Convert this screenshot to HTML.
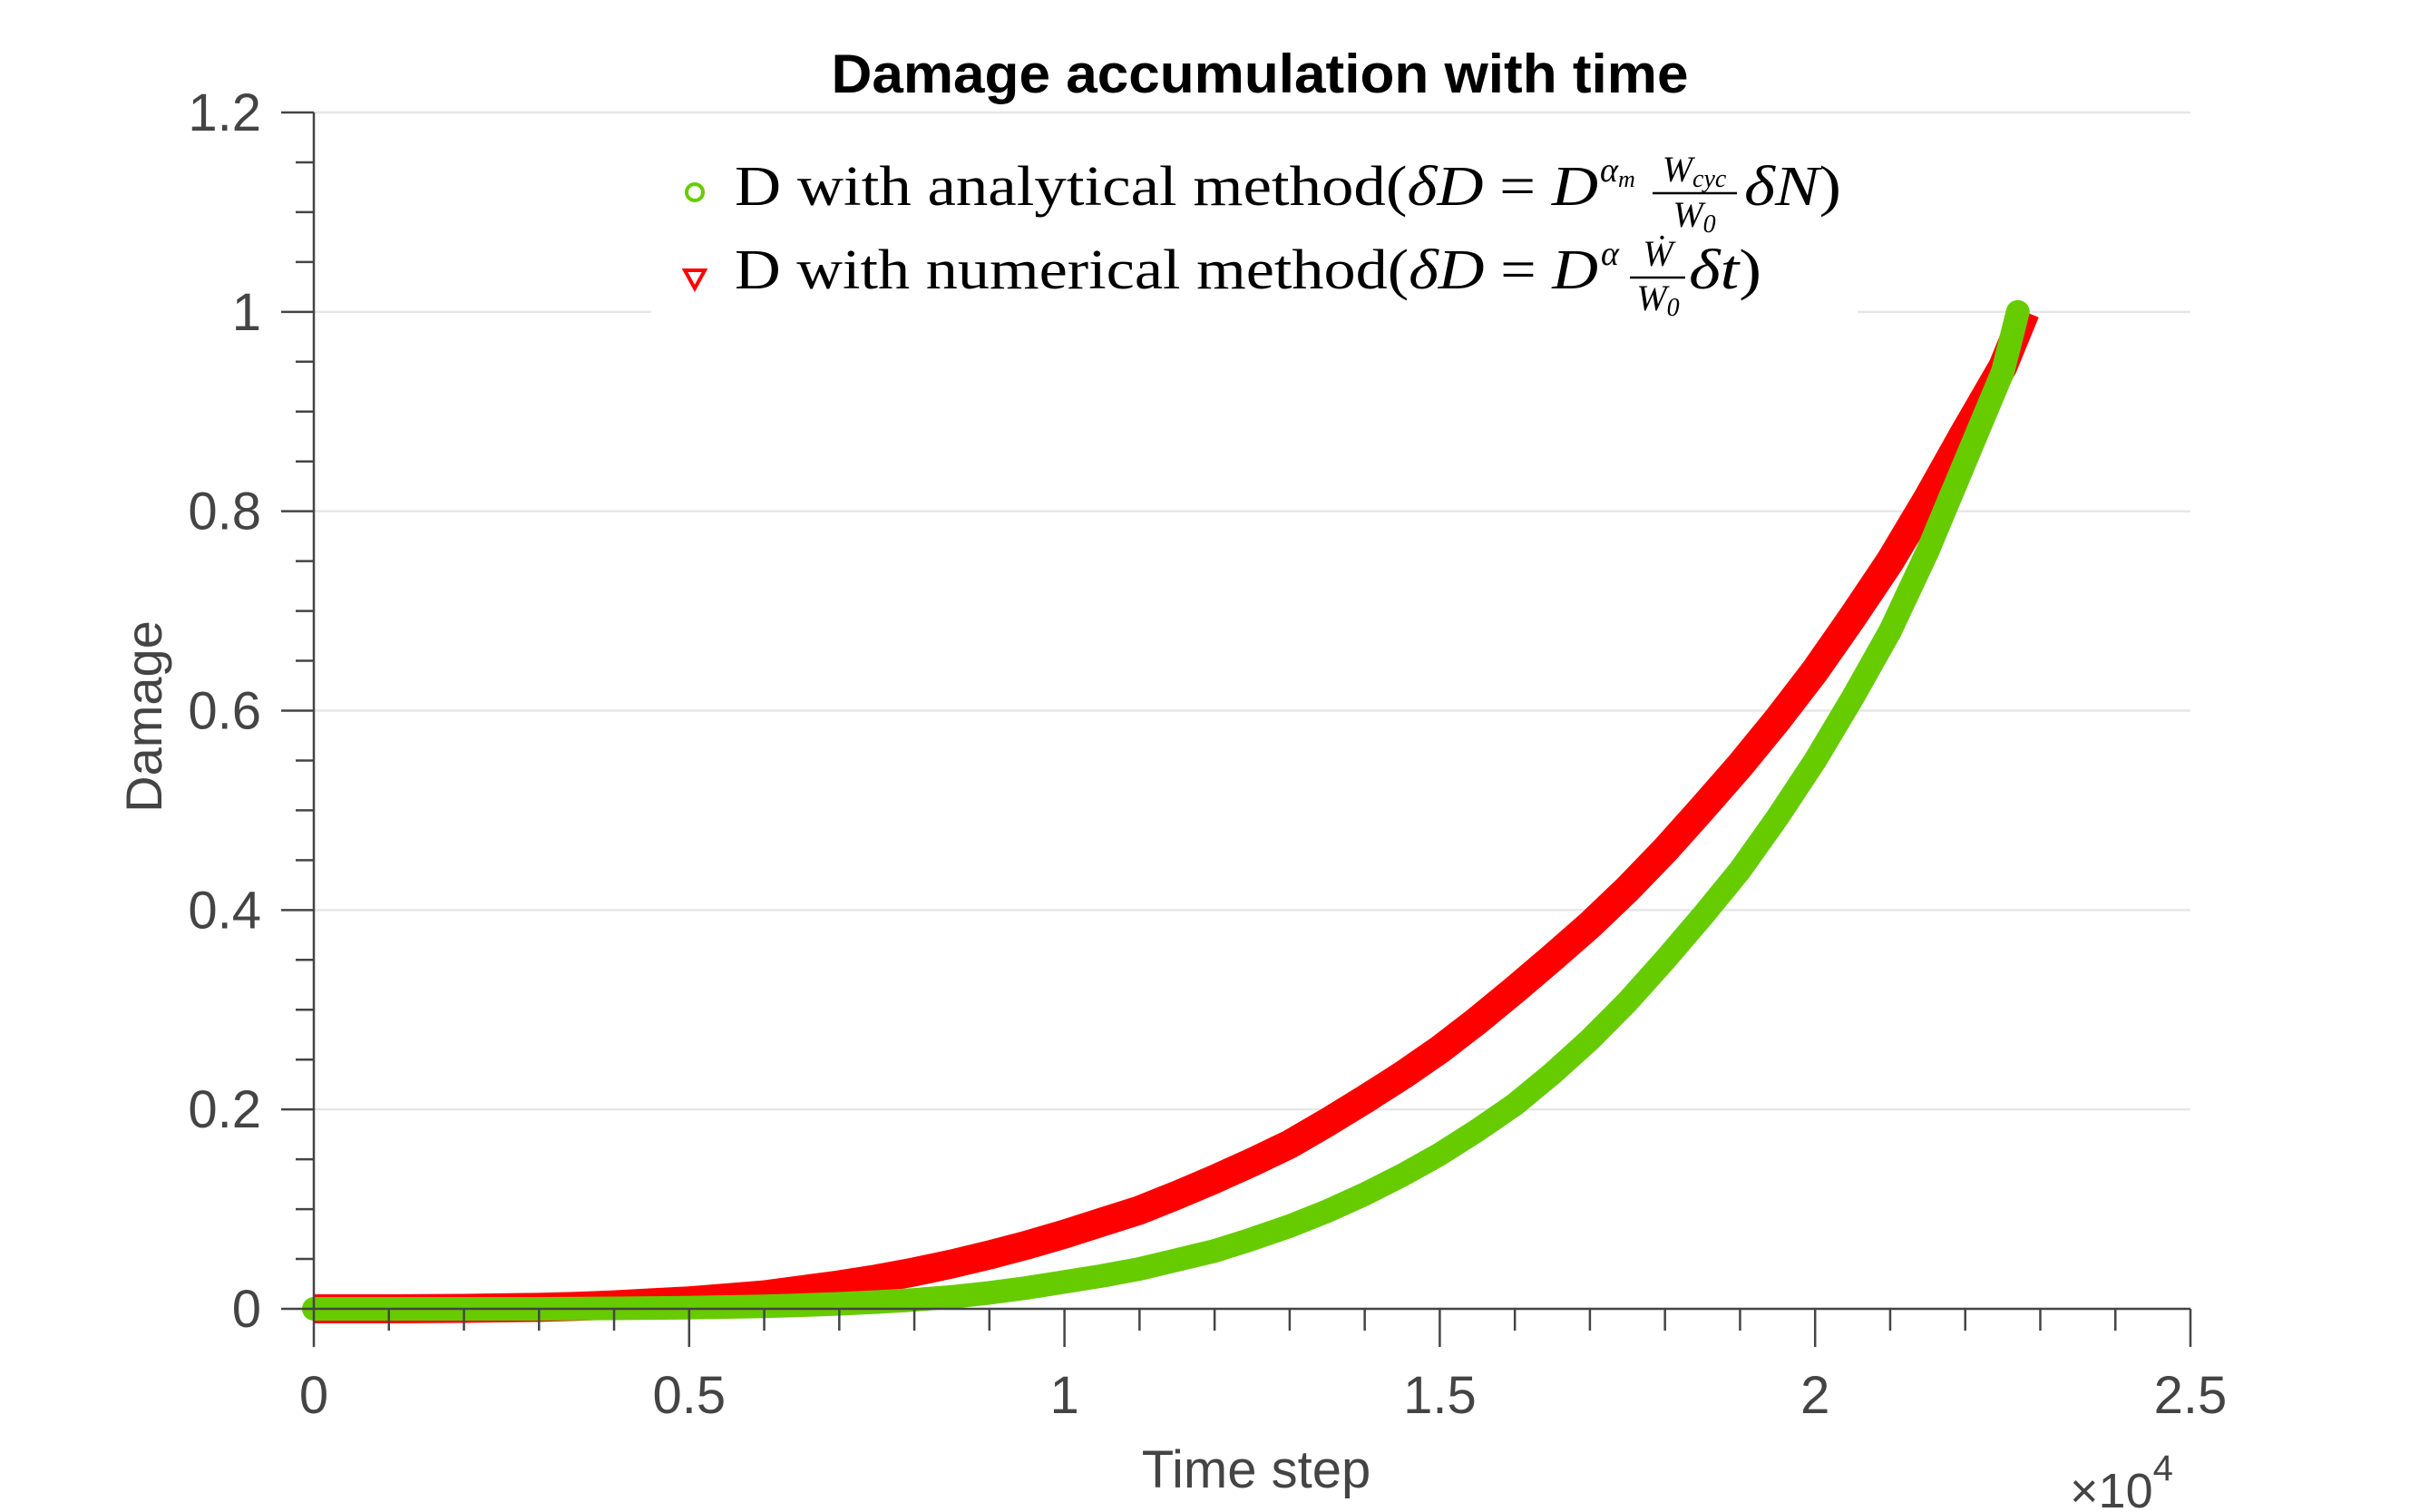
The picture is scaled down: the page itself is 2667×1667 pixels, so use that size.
<!DOCTYPE html>
<html><head><meta charset="utf-8"><style>
html,body{margin:0;padding:0;background:#fff}
svg{display:block}
text{font-family:"Liberation Sans",sans-serif}
.serif{font-family:"Liberation Serif",serif}
</style></head><body>
<svg id="chart" width="2667" height="1667" viewBox="0 0 2667 1667" xmlns="http://www.w3.org/2000/svg">
<rect width="2667" height="1667" fill="#fff"/>
<g id="grid"></g>
<g id="series"></g>
<g id="axes"></g>
<text x="1389" y="102" font-size="60" font-weight="bold" text-anchor="middle" fill="#000" textLength="945" lengthAdjust="spacingAndGlyphs">Damage accumulation with time</text>
<text x="1385" y="1640" font-size="58" text-anchor="middle" fill="#444">Time step</text>
<text transform="translate(178,790) rotate(-90)" font-size="56" text-anchor="middle" fill="#444">Damage</text>
<text x="2282" y="1662" font-size="54" fill="#444">×10<tspan dy="-30" font-size="40">4</tspan></text>
<g>
<rect x="718" y="150" width="1330" height="205" fill="#fff"/>
<g>
<circle cx="766" cy="212" r="9" fill="none" stroke="#66cc00" stroke-width="4"/>
<text class="serif" x="810" y="226" font-size="62" fill="#000" textLength="952" lengthAdjust="spacingAndGlyphs">D with analytical method(<tspan font-style="italic">δD</tspan> = <tspan font-style="italic">D</tspan></text>
<text class="serif" x="1764" y="200" font-size="38" font-style="italic">α<tspan font-size="26" dy="6">m</tspan></text>
<text class="serif" x="1868" y="200" font-size="40" font-style="italic" text-anchor="middle">W<tspan font-size="28" dy="6">cyc</tspan></text>
<line x1="1822" y1="213" x2="1915" y2="213" stroke="#000" stroke-width="2.5"/>
<text class="serif" x="1868" y="250" font-size="40" font-style="italic" text-anchor="middle">W<tspan font-size="28" dy="6">0</tspan></text>
<text class="serif" x="1923" y="226" font-size="62" fill="#000" textLength="107" lengthAdjust="spacingAndGlyphs"><tspan font-style="italic">δN</tspan>)</text>
</g>
<g>
<path d="M755 298 L777 298 L766 318 Z" fill="none" stroke="#ff0000" stroke-width="4"/>
<text class="serif" x="810" y="318" font-size="62" fill="#000" textLength="952" lengthAdjust="spacingAndGlyphs">D with numerical method(<tspan font-style="italic">δD</tspan> = <tspan font-style="italic">D</tspan></text>
<text class="serif" x="1765" y="292" font-size="38" font-style="italic">α</text>
<text class="serif" x="1828" y="293" font-size="40" font-style="italic" text-anchor="middle">Ẇ</text>
<line x1="1797" y1="306" x2="1858" y2="306" stroke="#000" stroke-width="2.5"/>
<text class="serif" x="1828" y="342" font-size="40" font-style="italic" text-anchor="middle">W<tspan font-size="28" dy="6">0</tspan></text>
<text class="serif" x="1862" y="318" font-size="62" fill="#000" textLength="80" lengthAdjust="spacingAndGlyphs"><tspan font-style="italic">δt</tspan>)</text>
</g>
</g>
</svg>
<script>
const timeSteps = [0,500,1000,1500,2000,2500,3000,3500,4000,4500,5000,5500,6000,6500,7000,7500,8000,8500,9000,9500,10000,10500,11000,11500,12000,12500,13000,13500,14000,14500,15000,15500,16000,16500,17000,17500,18000,18500,19000,19500,20000,20500,21000,21500,22000,22500,22700];
const analyticalD = [0,0,0,0,0,0,0,0.0002,0.0005,0.0008,0.0012,0.0018,0.0025,0.0036,0.005,0.0068,0.009,0.012,0.016,0.021,0.027,0.033,0.04,0.049,0.058,0.07,0.083,0.098,0.115,0.134,0.155,0.179,0.205,0.236,0.27,0.308,0.35,0.394,0.44,0.493,0.55,0.613,0.68,0.76,0.85,0.94,1.0];
const numericalT = [0,500,1000,1500,2000,2500,3000,3500,4000,4500,5000,5500,6000,6500,7000,7500,8000,8500,9000,9500,10000,10500,11000,11500,12000,12500,13000,13500,14000,14500,15000,15500,16000,16500,17000,17500,18000,18500,19000,19500,20000,20500,21000,21500,22000,22500,22800];
const numericalD = [0,0,0,0.0002,0.0005,0.001,0.0015,0.0025,0.004,0.006,0.008,0.011,0.014,0.019,0.024,0.03,0.037,0.045,0.054,0.064,0.075,0.087,0.099,0.114,0.13,0.147,0.165,0.187,0.21,0.234,0.26,0.289,0.32,0.352,0.385,0.421,0.46,0.502,0.545,0.591,0.64,0.694,0.75,0.813,0.88,0.945,1.0];
const xTicks = [0,0.5,1,1.5,2,2.5];
const xTickLabels = ["0","0.5","1","1.5","2","2.5"];
const yTicks = [0,0.2,0.4,0.6,0.8,1,1.2];
const yTickLabels = ["0","0.2","0.4","0.6","0.8","1","1.2"];

const L=346,R=2415,T=124,B=1443;
const sx=v=>L+(v/25000)*(R-L);
const sy=v=>B-(v/1.2)*(B-T);
const NS="http://www.w3.org/2000/svg";
function mk(tag,attrs,parent){const e=document.createElementNS(NS,tag);for(const k in attrs)e.setAttribute(k,attrs[k]);parent.appendChild(e);return e;}
const grid=document.getElementById('grid'),axes=document.getElementById('axes'),series=document.getElementById('series');

yTicks.forEach((v,i)=>{
  if(v>0){const g=mk('line',{x1:L,x2:R,y1:sy(v),y2:sy(v),stroke:'#e6e6e6','stroke-width':2.5},grid);
  
  }
  const t=mk('text',{x:L-58,y:sy(v)+20,'font-size':58,'text-anchor':'end',fill:'#444'},axes);
  t.textContent=yTickLabels[i];
  
  
});
for(let k=0;k<=24;k++){const v=k*0.05;const len=(k%4===0)?36:20;
  const l=mk('line',{x1:L-len,x2:L,y1:sy(v),y2:sy(v),stroke:'#444','stroke-width':2.5},axes);
  
  }
xTicks.forEach((v,i)=>{
  const t=mk('text',{x:sx(v*10000),y:B+115,'font-size':58,'text-anchor':'middle',fill:'#444'},axes);
  t.textContent=xTickLabels[i];
  
  
});
for(let k=0;k<=25;k++){const v=k*1000;const len=(k%5===0)?42:24;
  const l=mk('line',{x1:sx(v),x2:sx(v),y1:B,y2:B+len,stroke:'#444','stroke-width':2.5},axes);
  
  }
const xa=mk('line',{x1:L,x2:R,y1:B,y2:B,stroke:'#444','stroke-width':2.5},axes);


const ya=mk('line',{x1:L,x2:L,y1:T,y2:B,stroke:'#444','stroke-width':2.5},axes);



function path(xs,ys){return xs.map((x,i)=>(i?'L':'M')+sx(x).toFixed(1)+' '+sy(ys[i]).toFixed(1)).join(' ');}
const red=mk('path',{d:path(numericalT,numericalD),fill:'none',stroke:'#ff0000','stroke-width':32,'stroke-linejoin':'round'},series);


const green=mk('path',{d:path(timeSteps,analyticalD),fill:'none',stroke:'#66cc00','stroke-width':26,'stroke-linecap':'round','stroke-linejoin':'round'},series);


</script>
</body></html>
